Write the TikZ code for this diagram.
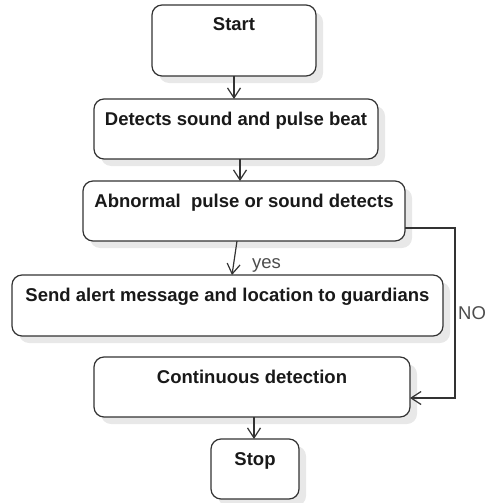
\documentclass[tikz,border=0pt]{standalone}
\usepackage{fontspec}
\setmainfont{Liberation Sans}
\usepackage{tikz}
\usetikzlibrary{arrows.meta, shadows}
\tikzset{%
	stepbox/.style={
		rectangle,
		rounded corners=10pt,
		draw=black!80,
		line width=1.2pt,
		fill=white,
		inner ysep=0pt,
		outer sep=0pt,
		text height=26pt,
		font=\fontsize{18.5}{22}\selectfont\bfseries,
		text=black!90,
		drop shadow={shadow xshift=7pt, shadow yshift=-7pt, fill=black!9, opacity=1}
	},
	flowlabel/.style={
		inner sep=0pt,
		font=\fontsize{18.5}{22}\selectfont,
		text=black!70
	},
}
\begin{document}
\begin{tikzpicture}[x=1pt, y=1pt, >={Straight Barb[length=10pt, width=13pt]}]
			
			\useasboundingbox (0,0) rectangle (487,-503);
			
			\foreach \n/\x/\y/\w/\d/\t in {start/234/40.5/164/45/Start,
				detect/236/129/284/34/Detects sound and pulse beat,
				abnormal/244/211/322/34/Abnormal\ \ pulse or sound detects,
				alert/227.5/305.5/431/35/Send alert message and location to guardians,
				cont/252/387/316/34/Continuous detection,
				stop/255/469/88/34/Stop}
			\node [stepbox, minimum width=\w pt, text depth=\d pt] (\n) at (\x,-\y) {\t};
			
			\draw [->, line width=1.2pt, black!80] (start.south) -- (start.south |- detect.north);
			\draw [->, line width=1.2pt, black!80] ([xshift=4pt]detect.south) -- ([xshift=4pt]detect.south |- abnormal.north);
			\draw [->, line width=1.2pt, black!80] ([xshift=-7pt]abnormal.south) -- ([xshift=4.5pt]alert.north);
			\draw [->, line width=1.2pt, black!80] ([xshift=2pt]cont.south) -- ([xshift=2pt]cont.south |- stop.north);
			
			% no branch
			\draw [->, line width=1.2pt, black!80] ([yshift=-17pt]abnormal.east) -- ++(50,0) |- ([yshift=-11pt]cont.east);
			
			\node [flowlabel, anchor=base west] (yes) at (252,-268) {yes};
			\node [flowlabel, anchor=base west] (no) at (458,-319) {NO};
			
		\end{tikzpicture}
\end{document}
